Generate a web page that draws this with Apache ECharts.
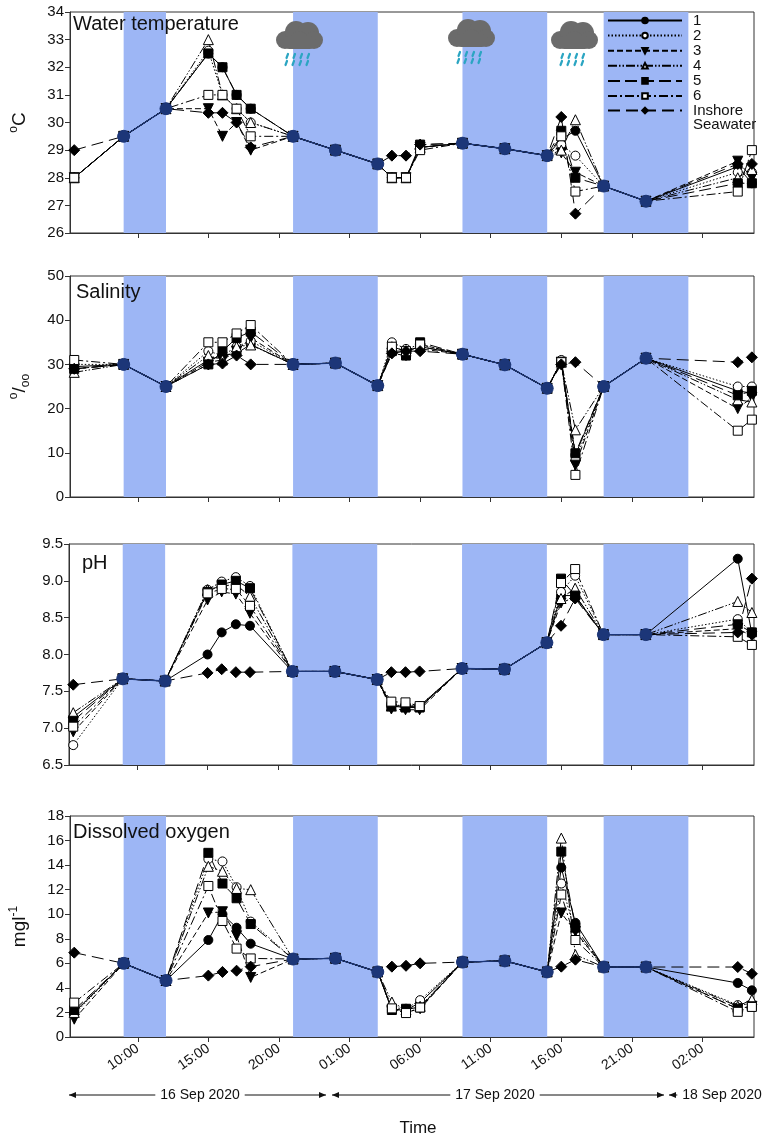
<!DOCTYPE html>
<html>
<head>
<meta charset="utf-8">
<script src="https://cdn.jsdelivr.net/npm/echarts@6/dist/echarts.min.js"></script>
<style>
  html, body { margin: 0; padding: 0; background: #fff; }
  #chart { width: 765px; height: 1140px; }
</style>
</head>
<body>
<div id="chart"></div>
<script>
// sampling times, hours from 16 Sep 2020 00:00
const hours = [5.5, 9, 12, 15, 16, 17, 18, 21, 24, 27, 28, 29, 30, 33, 36, 39, 40, 41, 43, 46, 52.5, 53.5]
const tickHours = [10, 15, 20, 25, 30, 35, 40, 45, 50]
const darkBands = [[9, 12], [21, 27], [33, 39], [43, 49]]
// points where every site had the same value (drawn in navy)
const sharedIdx = [1, 2, 7, 8, 9, 13, 14, 15, 18, 19]
const seriesNames = ['1', '2', '3', '4', '5', '6', 'Inshore\nSeawater']

// water temperature (°C)
const temp1 = [28.0, 29.5, 30.5, 32.5, 32.0, 31.0, 30.5, 29.5, 29.0, 28.5, 28.0, 28.0, 29.1, 29.25, 29.05, 28.8, 29.4, 29.7, 27.7, 27.15, 28.4, 27.8]
const temp2 = [28.0, 29.5, 30.5, 32.6, 31.0, 30.5, 30.0, 29.5, 29.0, 28.5, 28.0, 28.0, 29.1, 29.25, 29.05, 28.8, 29.2, 28.8, 27.7, 27.15, 28.2, 28.2]
const temp3 = [28.0, 29.5, 30.5, 30.5, 29.5, 30.0, 29.0, 29.5, 29.0, 28.5, 28.0, 28.0, 29.1, 29.25, 29.05, 28.8, 28.9, 28.2, 27.7, 27.15, 28.6, 28.0]
const temp4 = [28.0, 29.5, 30.5, 33.0, 31.0, 30.5, 30.0, 29.5, 29.0, 28.5, 28.0, 28.0, 29.1, 29.25, 29.05, 28.8, 29.0, 30.1, 27.7, 27.15, 28.0, 28.3]
const temp5 = [28.0, 29.5, 30.5, 32.5, 32.0, 31.0, 30.5, 29.5, 29.0, 28.5, 28.0, 28.0, 29.2, 29.25, 29.05, 28.8, 29.7, 28.0, 27.7, 27.15, 27.8, 27.8]
const temp6 = [28.0, 29.5, 30.5, 31.0, 31.0, 30.5, 29.5, 29.5, 29.0, 28.5, 28.0, 28.0, 29.0, 29.25, 29.05, 28.8, 29.5, 27.5, 27.7, 27.15, 27.5, 29.0]
const tempSea = [29.0, 29.5, 30.5, 30.35, 30.35, 30.0, 29.1, 29.5, 29.0, 28.5, 28.8, 28.8, 29.2, 29.25, 29.05, 28.8, 30.2, 26.7, 27.7, 27.15, 28.5, 28.5]

// salinity
const sal1 = [29.5, 30, 25, 31, 32, 32.5, 34.5, 30, 30.3, 25.2, 33, 33, 34, 32.3, 29.9, 24.6, 30.5, 9.5, 25, 31.4, 24, 23.5]
const sal2 = [30, 30, 25, 33, 32, 34, 35.3, 30, 30.3, 25.2, 35, 33.5, 34.5, 32.3, 29.9, 24.6, 31, 8.3, 25, 31.4, 25, 25]
const sal3 = [29, 30, 25, 30.5, 31, 33, 36, 30, 30.3, 25.2, 32.5, 32, 33.5, 32.3, 29.9, 24.6, 30.5, 7.2, 25, 31.4, 20, 22.5]
const sal4 = [28.2, 30, 25, 32, 31, 34, 34.4, 30, 30.3, 25.2, 34, 33, 34, 32.3, 29.9, 24.6, 30.5, 15.2, 25, 31.4, 22, 21.5]
const sal5 = [29, 30, 25, 30, 33, 36, 37.4, 30, 30.3, 25.2, 33, 32, 35, 32.3, 29.9, 24.6, 30.5, 9.9, 25, 31.4, 23, 24]
const sal6 = [31, 30, 25, 35, 35, 37, 38.9, 30, 30.3, 25.2, 34, 33, 34.5, 32.3, 29.9, 24.6, 30.5, 5.0, 25, 31.4, 15, 17.5]
const salSea = [29, 30, 25, 30, 30.2, 32, 30, 30, 30.3, 25.2, 32.5, 33, 33, 32.3, 29.9, 24.6, 30, 30.5, 25, 31.4, 30.5, 31.6]

// pH
const ph1 = [7.15, 7.67, 7.64, 8.0, 8.3, 8.41, 8.39, 7.77, 7.77, 7.66, 7.3, 7.3, 7.28, 7.81, 7.8, 8.16, 8.8, 8.8, 8.27, 8.27, 9.3, 8.28]
const ph2 = [6.77, 7.67, 7.64, 8.88, 8.99, 9.05, 8.93, 7.77, 7.77, 7.66, 7.32, 7.3, 7.3, 7.81, 7.8, 8.16, 8.85, 9.07, 8.27, 8.27, 8.48, 8.3]
const ph3 = [6.95, 7.67, 7.64, 8.74, 8.85, 8.82, 8.56, 7.77, 7.77, 7.66, 7.26, 7.25, 7.25, 7.81, 7.8, 8.16, 8.7, 8.78, 8.27, 8.27, 8.35, 8.25]
const ph4 = [7.21, 7.67, 7.64, 8.88, 8.93, 8.95, 8.79, 7.77, 7.77, 7.66, 7.3, 7.3, 7.3, 7.81, 7.8, 8.16, 8.76, 8.9, 8.27, 8.27, 8.72, 8.57]
const ph5 = [7.1, 7.67, 7.64, 8.85, 8.95, 9.0, 8.9, 7.77, 7.77, 7.66, 7.3, 7.28, 7.28, 7.81, 7.8, 8.16, 9.03, 8.8, 8.27, 8.27, 8.41, 8.3]
const ph6 = [7.02, 7.67, 7.64, 8.83, 8.89, 8.89, 8.66, 7.77, 7.77, 7.66, 7.36, 7.35, 7.3, 7.81, 7.8, 8.16, 8.97, 9.16, 8.27, 8.27, 8.24, 8.13]
const phSea = [7.59, 7.67, 7.64, 7.75, 7.8, 7.76, 7.76, 7.77, 7.77, 7.66, 7.76, 7.76, 7.77, 7.81, 7.8, 8.16, 8.39, 8.76, 8.27, 8.27, 8.3, 9.03]

// dissolved oxygen (mg/l)
const do1 = [2.0, 6.0, 4.6, 7.9, 10.0, 8.9, 7.6, 6.35, 6.41, 5.3, 2.2, 2.2, 2.8, 6.1, 6.2, 5.3, 13.8, 9.3, 5.7, 5.7, 4.4, 3.8]
const do2 = [1.85, 6.0, 4.6, 14.5, 14.3, 12.2, 9.4, 6.35, 6.41, 5.3, 2.4, 2.3, 3.0, 6.1, 6.2, 5.3, 12.5, 8.5, 5.7, 5.7, 2.6, 2.7]
const do3 = [1.45, 6.0, 4.6, 10.1, 10.2, 8.25, 4.85, 6.35, 6.41, 5.3, 2.2, 2.0, 2.3, 6.1, 6.2, 5.3, 10.1, 8.6, 5.7, 5.7, 2.3, 2.5]
const do4 = [2.0, 6.0, 4.6, 13.9, 13.5, 12.1, 12.0, 6.35, 6.41, 5.3, 2.85, 2.2, 2.5, 6.1, 6.2, 5.3, 16.2, 6.7, 5.7, 5.7, 2.5, 3.05]
const do5 = [2.2, 6.0, 4.6, 15.0, 12.5, 11.3, 9.2, 6.35, 6.41, 5.3, 2.2, 2.3, 2.4, 6.1, 6.2, 5.3, 15.1, 8.9, 5.7, 5.7, 2.3, 2.5]
const do6 = [2.8, 6.0, 4.6, 12.3, 9.45, 7.2, 6.4, 6.35, 6.41, 5.3, 2.33, 1.95, 2.4, 6.1, 6.2, 5.3, 11.6, 7.9, 5.7, 5.7, 2.05, 2.45]
const doSea = [6.87, 6.0, 4.6, 5.0, 5.3, 5.4, 5.73, 6.35, 6.41, 5.3, 5.73, 5.8, 6.0, 6.1, 6.2, 5.3, 5.73, 6.3, 5.7, 5.7, 5.7, 5.15]

const FONT = '"Liberation Sans", Arial, sans-serif'
const NAVY = '#1c3678'
const BAND = '#9db6f5'

const panels = [
  { title: 'Water temperature', tx: 73, ty: 14, top: 12, min: 26, max: 34, interval: 1,
    data: [temp1, temp2, temp3, temp4, temp5, temp6, tempSea], name: '{sup|o}{big|C}', digits: 0 },
  { title: 'Salinity', tx: 76, ty: 282, top: 276, min: 0, max: 50, interval: 10,
    data: [sal1, sal2, sal3, sal4, sal5, sal6, salSea], name: '{sup|o}{big|/}{sub|oo}', digits: 0 },
  { title: 'pH', tx: 82, ty: 553, top: 544, min: 6.5, max: 9.5, interval: 0.5,
    data: [ph1, ph2, ph3, ph4, ph5, ph6, phSea], name: '', digits: 1 },
  { title: 'Dissolved oxygen', tx: 73, ty: 822, top: 816, min: 0, max: 18, interval: 2,
    data: [do1, do2, do3, do4, do5, do6, doSea], name: '{big|mgl}{sup|-1}', digits: 0 }
]

// marker + dash style per site
const looks = [
  { symbol: 'circle', size: 9, fill: '#000', dash: 'solid' },
  { symbol: 'circle', size: 9, fill: '#fff', dash: [1.5, 2] },
  { symbol: 'triangle', size: 10, fill: '#000', dash: [6, 3], rotate: 180 },
  { symbol: 'triangle', size: 10, fill: '#fff', dash: [9, 2, 1.5, 2, 1.5, 2] },
  { symbol: 'rect', size: 9, fill: '#000', dash: [12, 5] },
  { symbol: 'rect', size: 9, fill: '#fff', dash: [9, 3, 2, 3] },
  { symbol: 'diamond', size: 11, fill: '#000', dash: [12, 6] }
]

const pad2 = n => (n < 10 ? '0' : '') + n

const grids = []
const xAxes = []
const yAxes = []
const titles = []
const series = []

panels.forEach((p, i) => {
  grids.push({ left: 69, right: 11, top: p.top, height: 221, show: true, borderColor: '#333', borderWidth: 1 })
  xAxes.push({
    gridIndex: i, type: 'value', min: 5.2, max: 53.65,
    axisLine: { lineStyle: { color: '#333' } },
    axisTick: { customValues: tickHours, length: 5, lineStyle: { color: '#333' } },
    axisLabel: {
      show: i === 3, customValues: tickHours, rotate: 35, margin: 10,
      fontSize: 14, color: '#111', fontFamily: FONT,
      formatter: v => pad2(Math.round(v) % 24) + ':00'
    },
    splitLine: { show: false }
  })
  yAxes.push({
    gridIndex: i, type: 'value', min: p.min, max: p.max, interval: p.interval,
    axisLine: { show: true, lineStyle: { color: '#333' } },
    axisTick: { show: true, length: 5, lineStyle: { color: '#333' } },
    axisLabel: { fontSize: 15, color: '#111', fontFamily: FONT, margin: 6, formatter: v => v.toFixed(p.digits) },
    splitLine: { show: false },
    name: p.name, nameLocation: 'middle', nameGap: 38,
    nameTextStyle: {
      fontFamily: FONT, color: '#111', fontSize: 17,
      rich: {
        big: { fontSize: 19, lineHeight: 24, fontFamily: FONT, color: '#111' },
        sup: { fontSize: 12, lineHeight: 13, verticalAlign: 'top', fontFamily: FONT, color: '#111' },
        sub: { fontSize: 12, lineHeight: 13, verticalAlign: 'bottom', fontFamily: FONT, color: '#111' }
      }
    }
  })
  titles.push({
    text: p.title, left: p.tx, top: p.ty, padding: 0,
    textStyle: { fontSize: 20, fontWeight: 'normal', color: '#111', fontFamily: FONT }
  })

  // night bands
  series.push({
    type: 'line', xAxisIndex: i, yAxisIndex: i, data: [], z: 0, silent: true,
    markArea: {
      silent: true,
      itemStyle: { color: BAND, opacity: 1 },
      data: darkBands.map(b => [{ xAxis: b[0] }, { xAxis: b[1] }])
    }
  })

  p.data.forEach((vals, k) => {
    const lk = looks[k]
    series.push({
      type: 'line', name: seriesNames[k], xAxisIndex: i, yAxisIndex: i,
      data: hours.map((h, j) => [h, vals[j]]),
      symbol: lk.symbol, symbolSize: lk.size, symbolRotate: lk.rotate || 0,
      showAllSymbol: true,
      lineStyle: { color: '#000', width: 1, type: lk.dash },
      itemStyle: { color: lk.fill, borderColor: '#000', borderWidth: 1 },
      emphasis: { disabled: true },
      z: 3
    })
  })

  // shared values drawn in navy
  const ref = p.data[0]
  series.push({
    type: 'line', name: 'shared', xAxisIndex: i, yAxisIndex: i,
    data: hours.map((h, j) => sharedIdx.includes(j) ? [h, ref[j]] : [h, null]),
    connectNulls: false,
    symbol: 'circle', symbolSize: 12, showAllSymbol: true,
    lineStyle: { color: NAVY, width: 1.3 },
    itemStyle: { color: NAVY, borderColor: NAVY },
    emphasis: { disabled: true },
    z: 5
  })
})

const cloud = (cx, cy) => {
  const puffs = [[-14, 4, 9], [-3, -4, 11], [9, -3, 11], [15, 4, 9], [0, 4, 9]]
  const out = puffs.map(([dx, dy, r]) => ({
    type: 'circle', z: 100, shape: { cx: cx + dx, cy: cy + dy, r }, style: { fill: '#6b6b6b' }
  }))
  out.push({ type: 'rect', z: 100, shape: { x: cx - 16, y: cy, width: 33, height: 13, r: 6 }, style: { fill: '#6b6b6b' } })
  const drops = [[-12, 20], [-5, 20], [2, 20], [9, 20], [-13, 27], [-6, 27], [1, 27], [8, 27]]
  drops.forEach(([dx, dy]) => {
    out.push({
      type: 'line', z: 100, shape: { x1: cx + dx + 1, y1: cy + dy - 2, x2: cx + dx - 0.5, y2: cy + dy + 2 },
      style: { stroke: '#2ba5c2', lineWidth: 2.2, lineCap: 'round' }
    })
  })
  return out
}

const arrowHead = (x, y, dir) => ({
  type: 'polygon',
  shape: { points: [[x, y], [x - dir * 7, y - 3], [x - dir * 7, y + 3]] },
  style: { fill: '#111' }
})

const dateSpan = (x1, x2, y, label, cx) => [
  { type: 'line', shape: { x1, y1: y, x2, y2: y }, style: { stroke: '#111', lineWidth: 1 } },
  arrowHead(x1, y, -1),
  arrowHead(x2, y, 1),
  {
    type: 'text', x: cx, y, z: 10,
    style: { text: label, fill: '#111', font: '14px ' + FONT, align: 'center', verticalAlign: 'middle',
      backgroundColor: '#fff', padding: [0, 5] }
  }
]

const legendText = { fontSize: 15, lineHeight: 15, color: '#111', fontFamily: FONT, padding: [0, 0, 0, 6] }

const graphics = [].concat(
  cloud(299, 36), cloud(471, 34), cloud(574, 36),
  dateSpan(69, 326, 1095, '16 Sep 2020', 200),
  dateSpan(332, 664, 1095, '17 Sep 2020', 495),
  dateSpan(669, 800, 1095, '18 Sep 2020', 722),
  [
    { type: 'text', x: 418, y: 1128, style: { text: 'Time', fill: '#111', font: '17px ' + FONT, align: 'center', verticalAlign: 'middle' } },
    // second line of the "Inshore Seawater" legend label
    { type: 'text', x: 693, y: 125, z: 100, style: { text: seriesNames[6].split('\n')[1], fill: '#111', font: '15px ' + FONT, verticalAlign: 'middle' } }
  ]
)

const chart = echarts.init(document.getElementById('chart'), null, { renderer: 'canvas' })
chart.setOption({
  animation: false,
  backgroundColor: '#fff',
  title: titles,
  legend: [
    {
      data: seriesNames.slice(0, 6), orient: 'vertical', left: 607, top: 13, padding: 0,
      itemWidth: 74, itemHeight: 7, itemGap: 0.1, selectedMode: false,
      textStyle: legendText
    },
    {
      data: seriesNames.slice(6), orient: 'vertical', left: 607, top: 103, padding: 0,
      itemWidth: 74, itemHeight: 7, selectedMode: false,
      formatter: name => name.split('\n')[0],
      textStyle: legendText
    }
  ],
  grid: grids,
  xAxis: xAxes,
  yAxis: yAxes,
  series,
  graphic: graphics
})
</script>
</body>
</html>
